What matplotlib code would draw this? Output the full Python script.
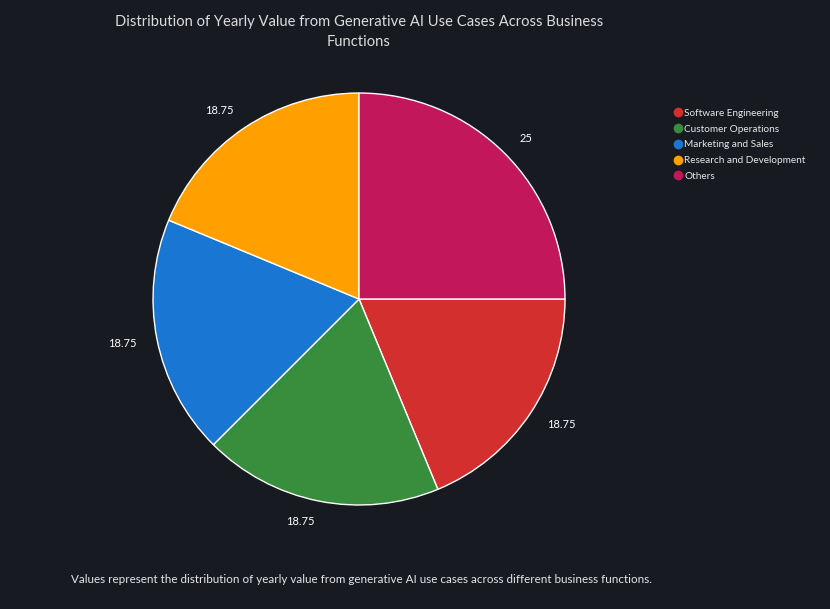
import matplotlib.pyplot as plt
from matplotlib.lines import Line2D

# data
categories = ['Software Engineering', 'Customer Operations', 'Marketing and Sales',
              'Research and Development', 'Others']
values = [18.75, 18.75, 18.75, 18.75, 25]
colors = ['#d32f2f', '#388e3c', '#1976d2', '#ffa000', '#c2185b']

bg = '#171a21'
plt.rcParams['font.family'] = ['Lato', 'DejaVu Sans']

fig = plt.figure(figsize=(8.3, 6.09), dpi=100, facecolor=bg)

# pie axes: radius ~206 px, centre at (359, 299)
ax = fig.add_axes([0.1223, 0.0862, 0.6205, 0.8456])
ax.set_facecolor(bg)
labels = ['{:g}'.format(v) for v in values]
wedges, texts = ax.pie(values, labels=labels, colors=colors, startangle=0,
                       counterclock=False, labeldistance=1.1,
                       wedgeprops=dict(edgecolor='white', linewidth=1),
                       textprops=dict(color='white', fontsize=8))

# legend
handles = [Line2D([], [], marker='o', linestyle='', markersize=6,
                  markerfacecolor=c, markeredgecolor=c) for c in colors]
leg = fig.legend(handles, categories, loc='upper left', bbox_to_anchor=(0.806, 0.828),
                 frameon=False, fontsize=7.2, labelcolor='#e6e6e6',
                 handletextpad=0.15, labelspacing=0.68, borderaxespad=0, handlelength=1.0)

fig.text(0.4325, 0.975, 'Distribution of Yearly Value from Generative AI Use Cases Across Business\nFunctions',
         ha='center', va='top', fontsize=10.6, color='#dcdcdc', linespacing=1.5)

fig.text(0.0855, 0.049, 'Values represent the distribution of yearly value from generative AI use cases '
         'across different business functions.', ha='left', va='center', fontsize=8.4, color='#e6e6e6')

fig.savefig('out.png', dpi=100, facecolor=bg)
